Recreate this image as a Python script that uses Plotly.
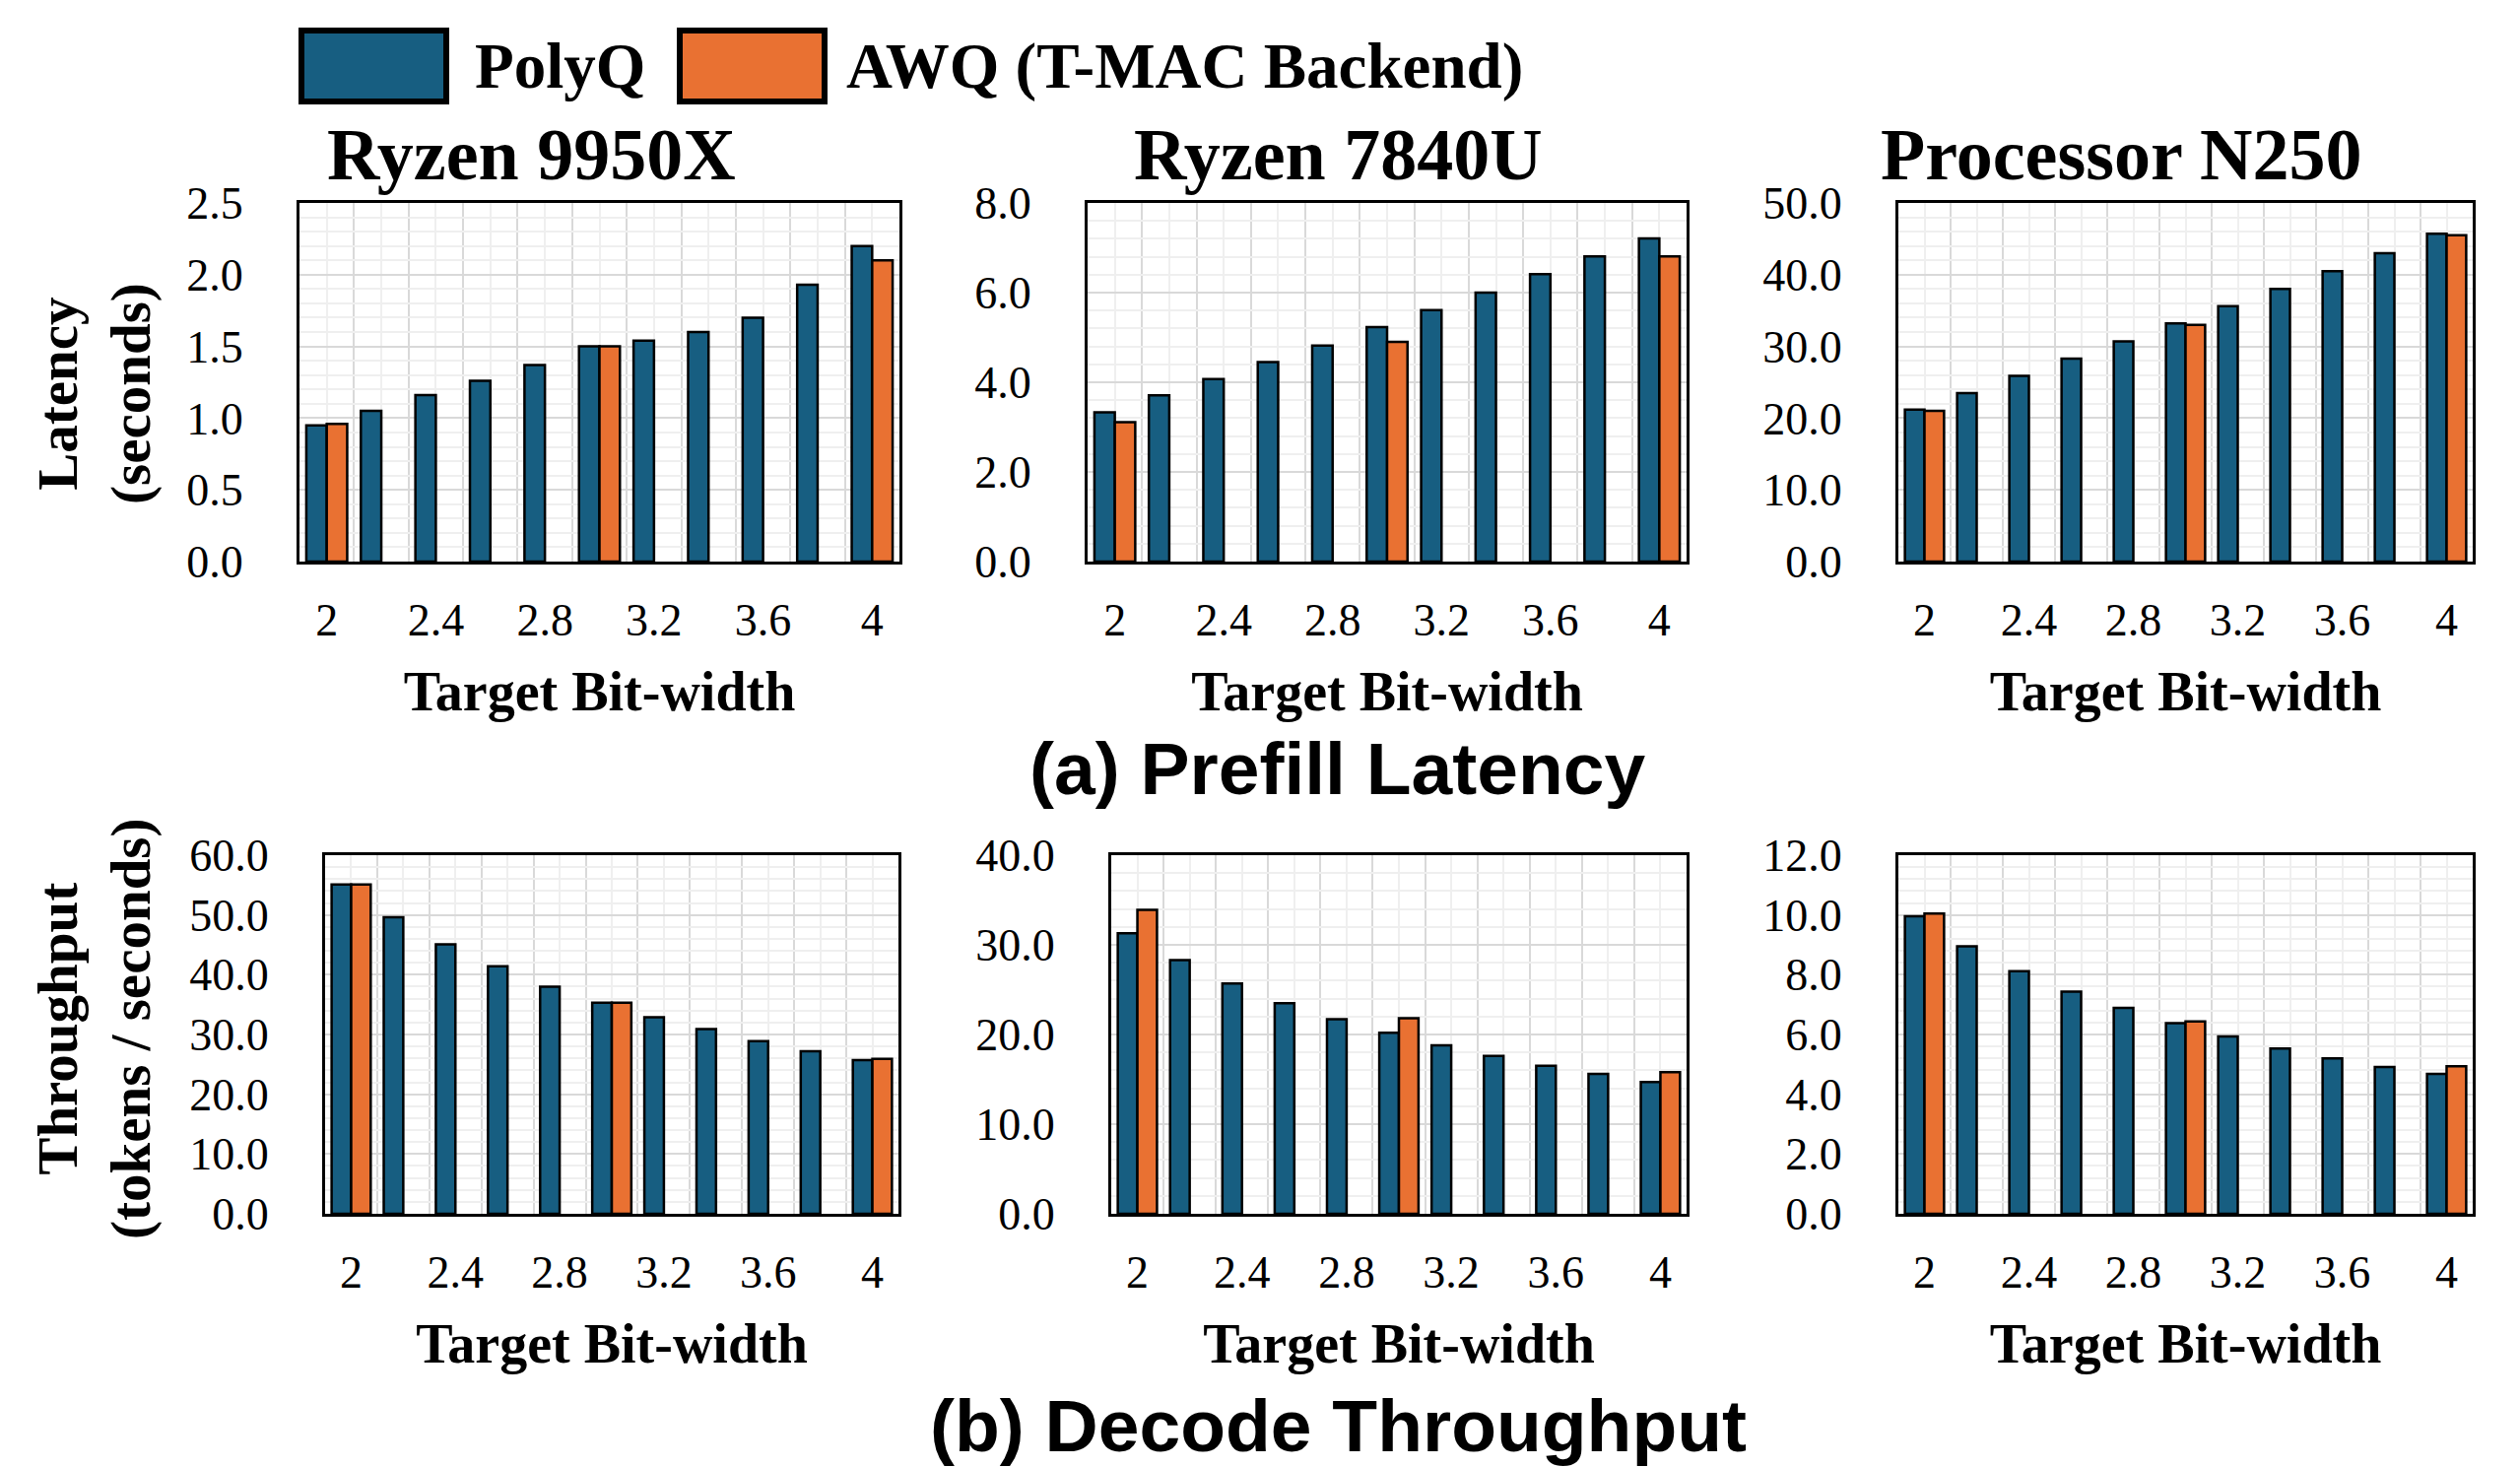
import plotly.graph_objects as go

# ---------------- data ----------------
bit_widths = [2.0, 2.2, 2.4, 2.6, 2.8, 3.0, 3.2, 3.4, 3.6, 3.8, 4.0]
awq_bits = [2.0, 3.0, 4.0]
tick_vals = [2.0, 2.4, 2.8, 3.2, 3.6, 4.0]
tick_labels = ["2", "2.4", "2.8", "3.2", "3.6", "4"]

processors = ["Ryzen 9950X", "Ryzen 7840U", "Processor N250"]
series_names = ["PolyQ", "AWQ (T-MAC Backend)"]

prefill_9950x_polyq = [0.95, 1.05, 1.16, 1.26, 1.37, 1.50, 1.54, 1.60, 1.70, 1.93, 2.20]
prefill_9950x_awq = [0.96, 1.50, 2.10]
prefill_7840u_polyq = [3.33, 3.71, 4.07, 4.45, 4.82, 5.23, 5.61, 6.00, 6.41, 6.81, 7.21]
prefill_7840u_awq = [3.11, 4.90, 6.81]
prefill_n250_polyq = [21.2, 23.5, 25.9, 28.3, 30.7, 33.2, 35.6, 38.0, 40.5, 43.0, 45.7]
prefill_n250_awq = [21.0, 33.0, 45.5]

decode_9950x_polyq = [55.1, 49.6, 45.1, 41.4, 38.0, 35.3, 32.9, 30.9, 28.9, 27.2, 25.7]
decode_9950x_awq = [55.1, 35.3, 25.9]
decode_7840u_polyq = [31.3, 28.3, 25.7, 23.5, 21.7, 20.2, 18.8, 17.6, 16.5, 15.6, 14.7]
decode_7840u_awq = [33.9, 21.8, 15.8]
decode_n250_polyq = [9.96, 8.95, 8.12, 7.43, 6.89, 6.38, 5.93, 5.53, 5.20, 4.91, 4.68]
decode_n250_awq = [10.05, 6.44, 4.94]

y_max = [2.5, 8.0, 50.0, 60.0, 40.0, 12.0]
y_dtick = [0.5, 2.0, 10.0, 10.0, 10.0, 2.0]

# ---------------- styling ----------------
W, H = 2558, 1489
BLUE = "#175E81"
ORANGE = "#E97132"
SERIF = "Liberation Serif"
SANS = "Liberation Sans"
GRID_DARK = "#d9d9d9"
GRID_LIGHT = "#efefef"

panels = [
    (prefill_9950x_polyq, prefill_9950x_awq),
    (prefill_7840u_polyq, prefill_7840u_awq),
    (prefill_n250_polyq, prefill_n250_awq),
    (decode_9950x_polyq, decode_9950x_awq),
    (decode_7840u_polyq, decode_7840u_awq),
    (decode_n250_polyq, decode_n250_awq),
]

# panel boxes in pixels (x0, x1, ytop, ybottom)
boxes = [
    (304, 913, 206, 570),
    (1104, 1712, 206, 570),
    (1927, 2510, 206, 570),
    (330, 912, 868, 1232),
    (1128, 1712, 868, 1232),
    (1927, 2510, 868, 1232),
]

fig = go.Figure()
layout = dict(
    width=W, height=H, autosize=False,
    margin=dict(l=0, r=0, t=0, b=0, pad=0, autoexpand=False),
    paper_bgcolor="white", plot_bgcolor="white",
    barmode="group", bargap=0.25, bargroupgap=0,
    showlegend=False,
    font=dict(family=SERIF, color="black"),
)

major_text = [tick_labels[tick_vals.index(v)] if v in tick_vals else "" for v in bit_widths]
half_steps = [round((a + b) / 2, 2) for a, b in zip(bit_widths[:-1], bit_widths[1:])]

for i, ((poly, awq), box) in enumerate(zip(panels, boxes)):
    n = "" if i == 0 else str(i + 1)
    xa, ya = "x" + n, "y" + n
    fig.add_trace(go.Bar(
        x=bit_widths, y=poly, name=series_names[0], xaxis=xa, yaxis=ya,
        marker=dict(color=BLUE, line=dict(color="black", width=2.5)),
    ))
    fig.add_trace(go.Bar(
        x=awq_bits, y=awq, name=series_names[1], xaxis=xa, yaxis=ya,
        marker=dict(color=ORANGE, line=dict(color="black", width=2.5)),
    ))
    x0, x1, yt, yb = box
    layout["xaxis" + n] = dict(
        domain=[x0 / W, x1 / W], anchor=ya, range=[1.9, 4.1], automargin=False,
        tickmode="array", tickvals=bit_widths, ticktext=major_text,
        showgrid=True, gridcolor=GRID_LIGHT, gridwidth=2,
        minor=dict(tickmode="array", tickvals=half_steps, showgrid=True,
                   gridcolor=GRID_DARK, gridwidth=2, ticks=""),
        ticks="", ticklabelstandoff=17,
        tickfont=dict(family=SERIF, size=46, color="black"),
        showline=True, linecolor="black", linewidth=3, mirror=True,
        zeroline=False,
        title=dict(text="<b>Target Bit-width</b>", standoff=28,
                   font=dict(family=SERIF, size=56, color="black")),
    )
    layout["yaxis" + n] = dict(
        domain=[1 - yb / H, 1 - yt / H], anchor=xa, range=[0, y_max[i]], automargin=False,
        tickmode="linear", tick0=0, dtick=y_dtick[i], tickformat=".1f",
        showgrid=True, gridcolor=GRID_DARK, gridwidth=2,
        minor=dict(dtick=y_dtick[i] / 5, tick0=0, showgrid=True,
                   gridcolor=GRID_LIGHT, gridwidth=2, ticks=""),
        ticks="", ticklabelstandoff=45,
        tickfont=dict(family=SERIF, size=46, color="black"),
        showline=True, linecolor="black", linewidth=3, mirror=True,
        zeroline=False,
    )

annotations = []
# subplot titles
title_centers = [539, 1358, 2153]
for name, cx in zip(processors, title_centers):
    annotations.append(dict(
        text="<b>" + name + "</b>", x=cx / W, y=1 - 157 / H, xref="paper", yref="paper",
        xanchor="center", yanchor="middle", showarrow=False,
        font=dict(family=SERIF, size=74, color="black")))

# row titles
annotations.append(dict(text="<b>(a) Prefill Latency</b>", x=1357 / W, y=1 - 780 / H,
                        xref="paper", yref="paper", xanchor="center", yanchor="middle",
                        showarrow=False, font=dict(family=SANS, size=75, color="black")))
annotations.append(dict(text="<b>(b) Decode Throughput</b>", x=1358 / W, y=1 - 1447 / H,
                        xref="paper", yref="paper", xanchor="center", yanchor="middle",
                        showarrow=False, font=dict(family=SANS, size=75, color="black")))

# y-axis titles
annotations.append(dict(text="<b>Latency<br>(seconds)</b>", x=96 / W, y=1 - 400 / H,
                        xref="paper", yref="paper", xanchor="center", yanchor="middle",
                        textangle=-90, showarrow=False,
                        font=dict(family=SERIF, size=57, color="black")))
annotations.append(dict(text="<b>Throughput<br>(tokens / seconds)</b>", x=96 / W, y=1 - 1044 / H,
                        xref="paper", yref="paper", xanchor="center", yanchor="middle",
                        textangle=-90, showarrow=False,
                        font=dict(family=SERIF, size=57, color="black")))

# legend (drawn manually with large swatches)
shapes = []
legend_items = [(series_names[0], BLUE, 306, 453, 480), (series_names[1], ORANGE, 690, 837, 857)]
for name, col, sx0, sx1, tx in legend_items:
    shapes.append(dict(type="rect", xref="paper", yref="paper",
                       x0=sx0 / W, x1=sx1 / W, y0=1 - 103 / H, y1=1 - 31 / H,
                       fillcolor=col, line=dict(color="black", width=6)))
    annotations.append(dict(text="<b>" + name + "</b>", x=tx / W, y=1 - 67 / H,
                            xref="paper", yref="paper", xanchor="left", yanchor="middle",
                            showarrow=False, font=dict(family=SERIF, size=65, color="black")))

layout["annotations"] = annotations
layout["shapes"] = shapes
fig.update_layout(**layout)
fig.write_html("out.html")
